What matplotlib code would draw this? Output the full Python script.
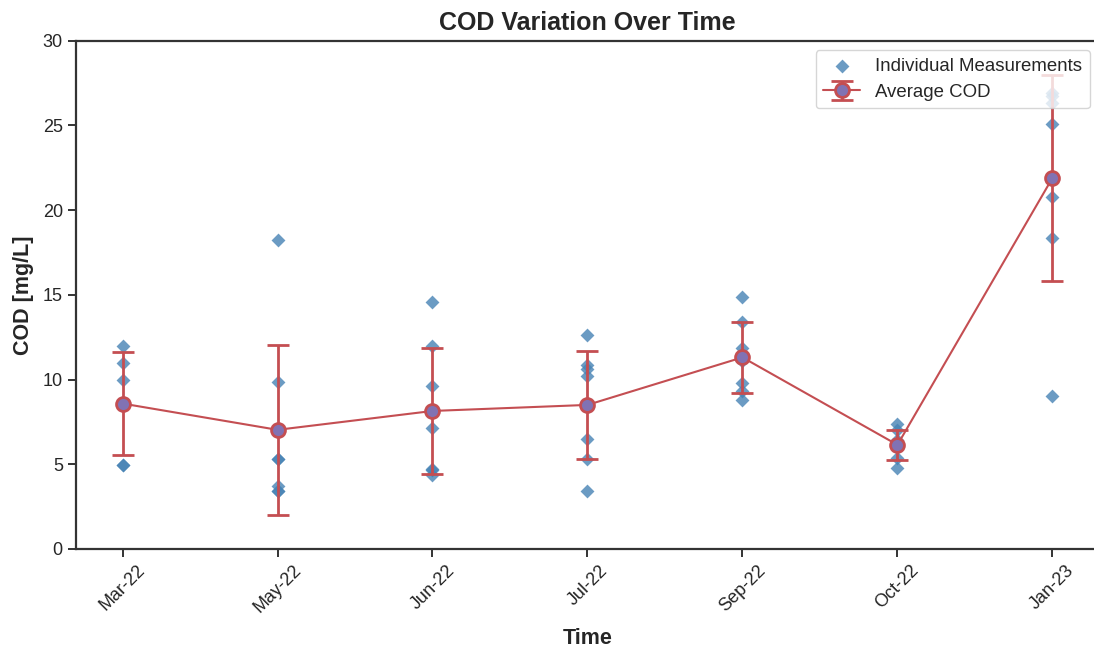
import numpy as np
import matplotlib.pyplot as plt
import seaborn as sns

sns.set_style("ticks")
plt.rcParams['font.family'] = ['Liberation Sans', 'DejaVu Sans']

months = ['Mar-22', 'May-22', 'Jun-22', 'Jul-22', 'Sep-22', 'Oct-22', 'Jan-23']

# individual COD readings per sampling month [mg/L]
cod_mar22 = [12.0, 11.0, 10.0, 4.95, 4.95]
cod_may22 = [18.25, 9.85, 5.3, 5.3, 3.7, 3.4, 3.4]
cod_jun22 = [14.55, 12.0, 9.6, 7.15, 4.7, 4.65, 4.35]
cod_jul22 = [12.65, 10.85, 10.6, 10.2, 6.5, 5.3, 3.4]
cod_sep22 = [14.9, 13.4, 11.85, 11.1, 9.8, 9.3, 8.8]
cod_oct22 = [7.35, 7.0, 6.4, 6.0, 5.35, 4.75]
cod_jan23 = [26.9, 26.75, 26.35, 25.1, 20.8, 18.35, 9.05]

samples = [cod_mar22, cod_may22, cod_jun22, cod_jul22, cod_sep22, cod_oct22, cod_jan23]

means = [np.mean(s) for s in samples]
stds = [np.std(s) for s in samples]

fig = plt.figure(figsize=(10.94, 6.48), dpi=100)
ax = fig.add_axes([0.0695, 0.153, 0.935, 0.784])

x = np.arange(len(months))

first = True
for i, s in enumerate(samples):
    ax.scatter(np.full(len(s), x[i]), s, marker='D', s=50, color='steelblue',
               alpha=0.8, linewidths=0,
               label='Individual Measurements' if first else None, zorder=2)
    first = False

ax.errorbar(x, means, yerr=stds, fmt='-o', color='#c44e52', ecolor='#c44e52',
            elinewidth=2, capsize=8, capthick=2, linewidth=1.5,
            markersize=10, markerfacecolor='#8172b3', markeredgecolor='#c44e52',
            markeredgewidth=2, label='Average COD', zorder=3)

ax.set_xticks(x)
ax.set_xticklabels(months, rotation=45)
ax.set_xlim(-0.3, 6.3)
ax.set_ylim(0, 30)
ax.tick_params(labelsize=13, length=6, width=1.4, color='#333333')
for sp in ax.spines.values():
    sp.set_linewidth(1.6)
    sp.set_color('#333333')

ax.set_title('COD Variation Over Time', fontsize=18, fontweight='bold', pad=8)
ax.set_xlabel('Time', fontsize=15.5, fontweight='bold', labelpad=8)
ax.set_ylabel('COD [mg/L]', fontsize=15.5, fontweight='bold', labelpad=6)
ax.legend(loc='upper right', fontsize=13.4, borderaxespad=0.5)

plt.savefig('out.png', dpi=100)
